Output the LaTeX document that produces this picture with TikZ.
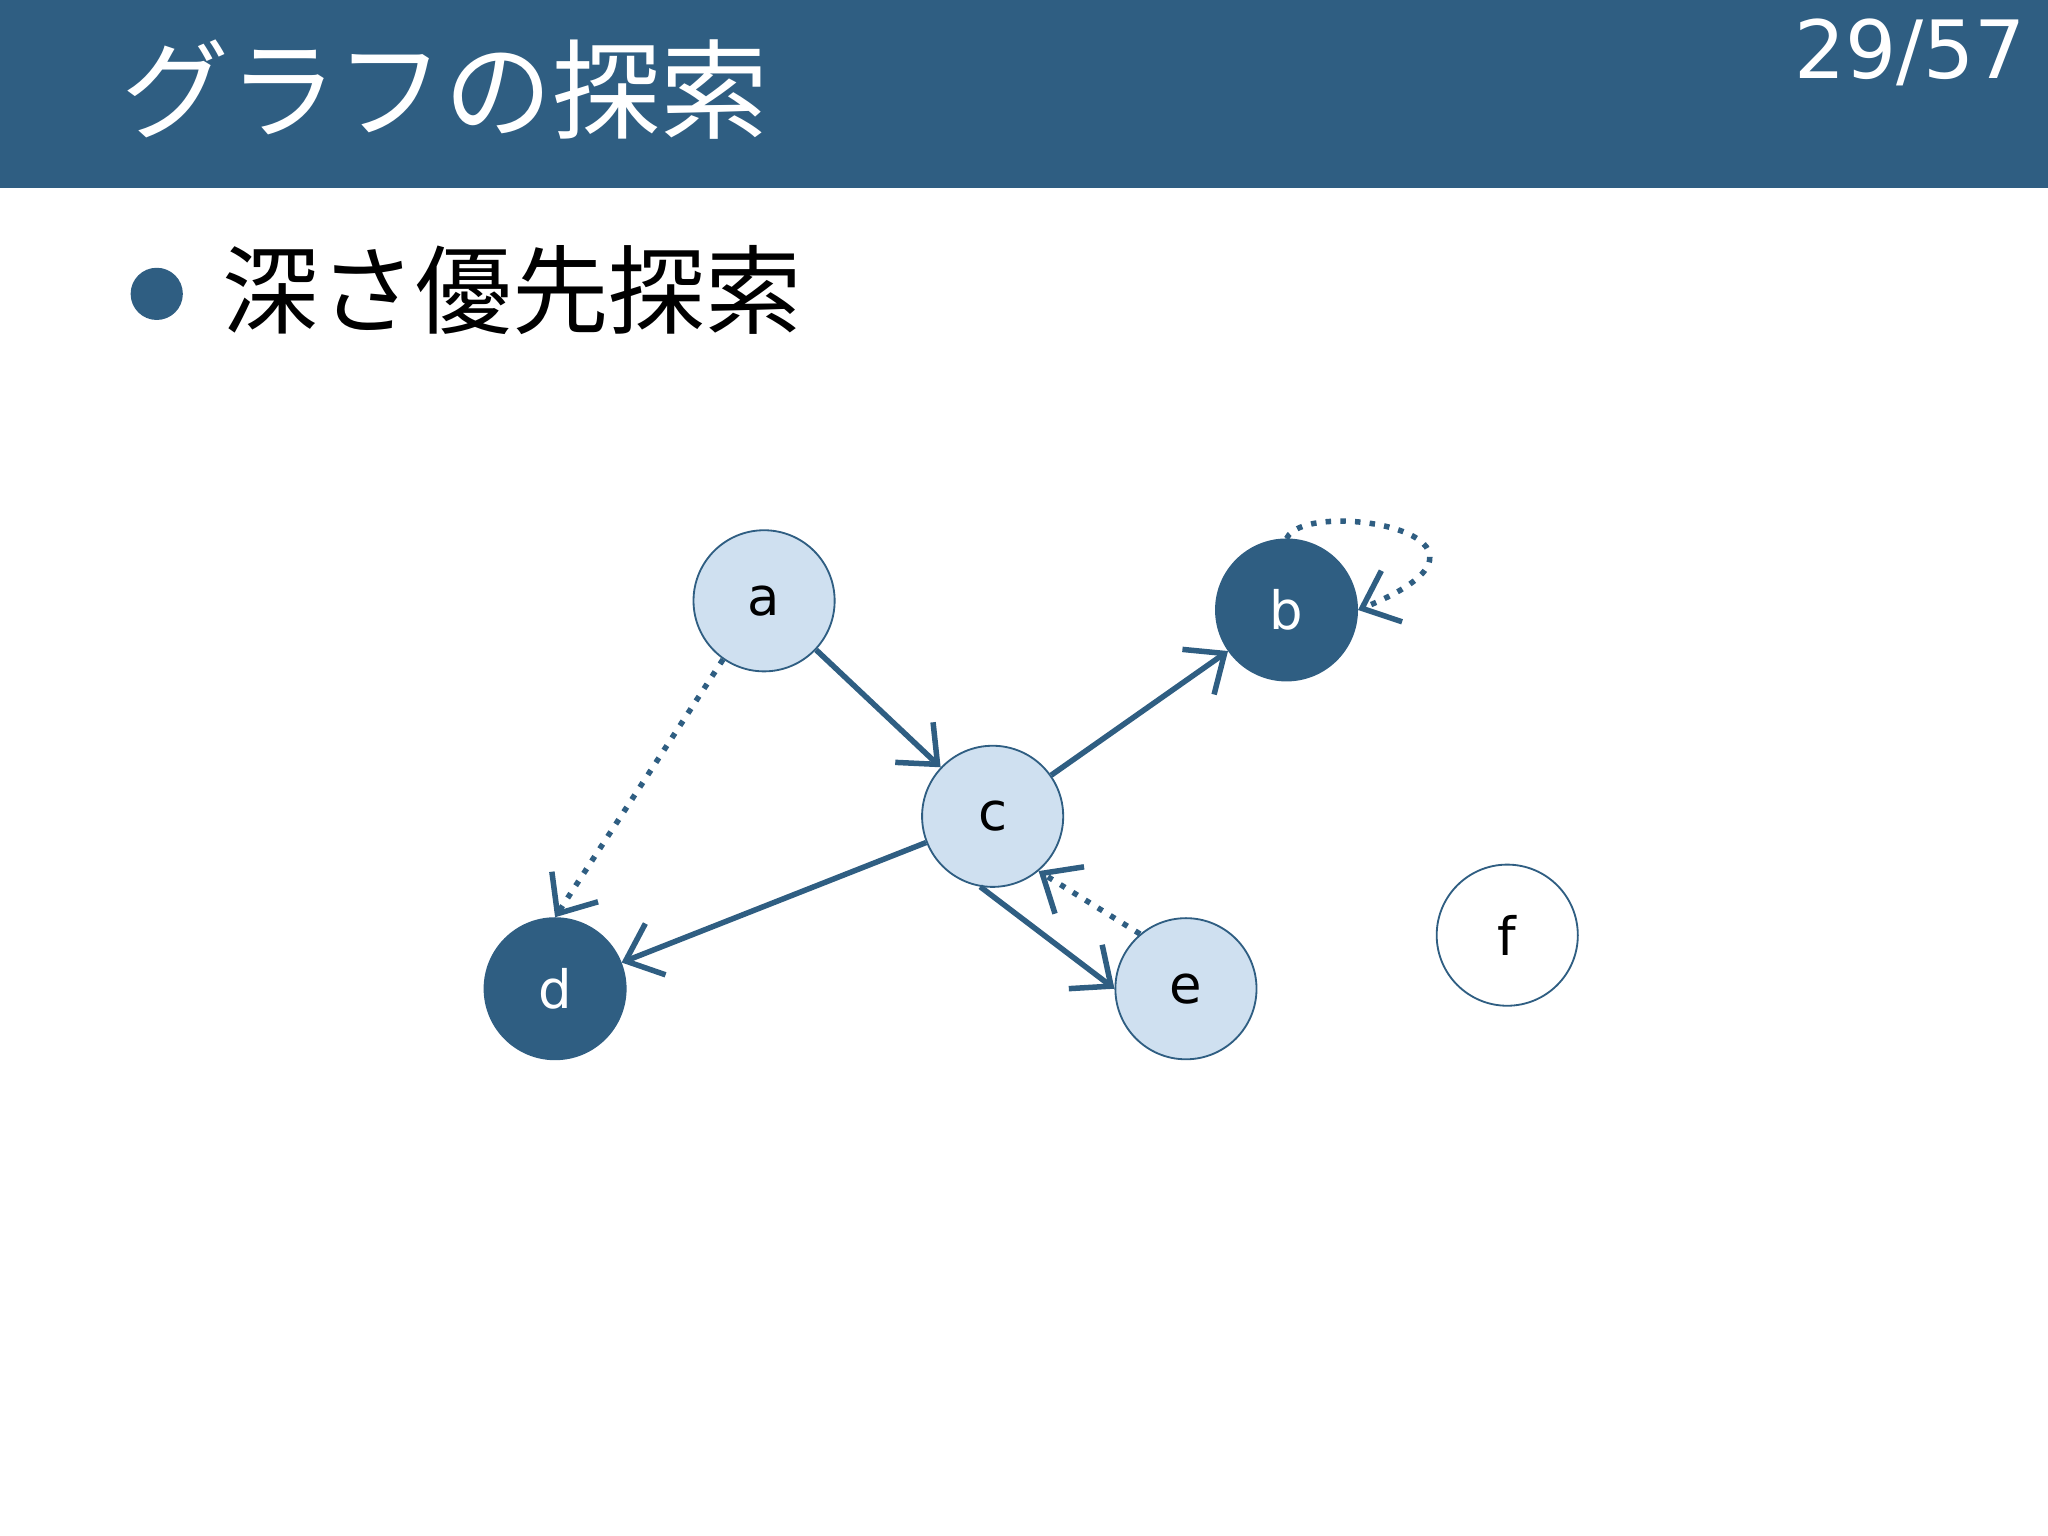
\documentclass[tikz,border=0pt]{standalone}
\usepackage{fontspec}
\setmainfont{DejaVu Sans}
\newfontfamily\jpfont{Noto Sans CJK JP}
\usetikzlibrary{arrows.meta}
\definecolor{nBlue}{RGB}{47,94,130}
\definecolor{nLight}{RGB}{207,224,240}
\tikzset{
  vtx/.style   = {circle, draw=nBlue, thin, minimum size=1.08cm, inner sep=0pt, font=\fontsize{11.5}{12}\selectfont},
  seen/.style  = {vtx, fill=nLight},
  done/.style  = {vtx, fill=nBlue, text=white},
  fresh/.style = {vtx, fill=white},
  arrow/.style = {-{Straight Barb[length=7pt,width=12pt]}, line width=1.2pt, draw=nBlue},
  dotarrow/.style = {arrow, dotted}
}
\begin{document}
\begin{tikzpicture}[x=0.01cm, y=-0.01cm]
  \useasboundingbox (0,0) rectangle (1568,1176);
  % header
  \fill[nBlue] (0,0) rectangle (1568,144);
  \node(title) [anchor=base west, text=white, font=\jpfont\fontsize{23.5}{26}\selectfont, inner sep=0pt] at (92,100) {グラフの探索};
  \node(page)  [anchor=north east, text=white, font=\fontsize{17.5}{20}\selectfont, inner sep=0pt] at (1552,14) {29/57};
  % bullet
  \fill[nBlue] (120,225) circle (20);
  \node(item)  [anchor=base west, font=\jpfont\fontsize{21}{24}\selectfont, inner sep=0pt] at (170,250) {深さ優先探索};

  \node(a) [seen]  at (585,460) {a};
  \node(b) [done]  at (985,467) {b};
  \node(c) [seen]  at (760,625) {c};
  \node(d) [done]  at (425,757) {d};
  \node(e) [seen]  at (908,757) {e};
  \node(f) [fresh] at (1154,716) {f};

  \draw [arrow]    (a) -- (c);
  \draw [arrow]    (c) -- (b);
  \draw [arrow]    (c) -- (d);
  \draw [arrow]    (c.260) -- (e.west);
  \draw [dotarrow] (e.130) -- (c.-50);
  \draw [dotarrow] (a.235) -- (d.north);
  \draw [dotarrow] (b.north) .. controls (1000,380) and (1180,410) .. (b.east);
\end{tikzpicture}
\end{document}
